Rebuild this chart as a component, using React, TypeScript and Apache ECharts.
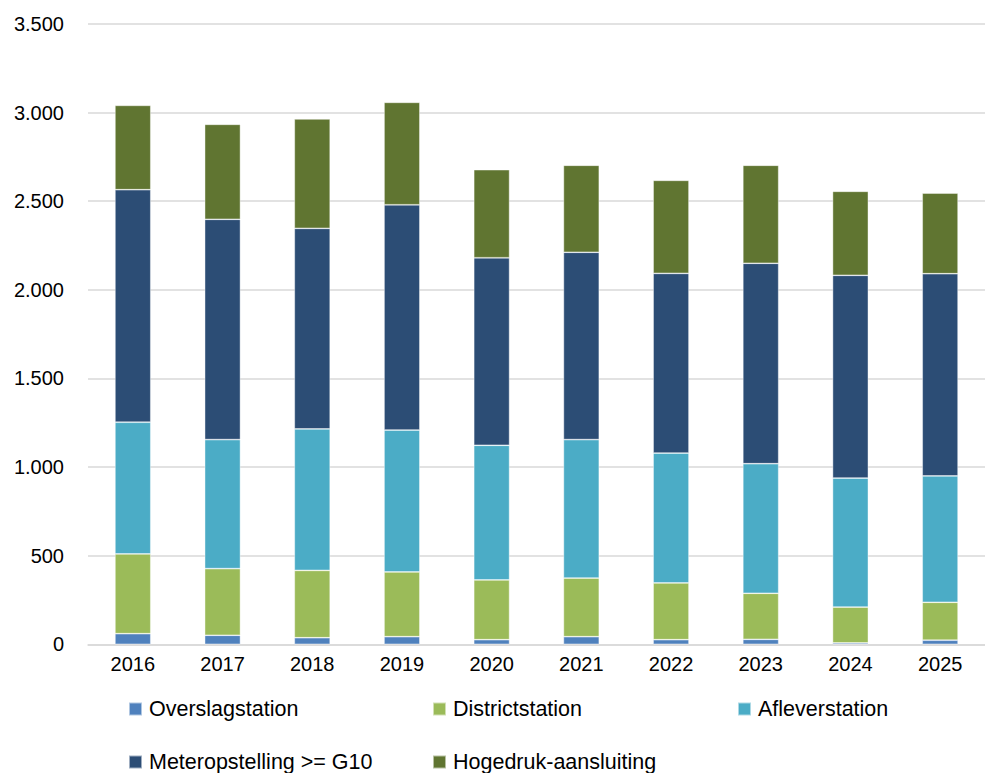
import React, { useEffect, useRef } from "react";
import * as echarts from "echarts";

const years = ["2016", "2017", "2018", "2019", "2020", "2021", "2022", "2023", "2024", "2025"];
const seriesNames = [
  "Overslagstation",
  "Districtstation",
  "Afleverstation",
  "Meteropstelling >= G10",
  "Hogedruk-aansluiting",
];
const overslag = [60, 51, 37, 43, 26, 43, 26, 28, 8, 23];
const district = [450, 376, 380, 365, 337, 331, 320, 260, 202, 214];
const aflever = [743, 728, 798, 801, 760, 781, 733, 731, 728, 713];
const meter = [1312, 1243, 1132, 1271, 1058, 1057, 1014, 1131, 1144, 1141];
const hogedruk = [476, 536, 617, 578, 497, 491, 525, 553, 474, 455];
const colors = ["#4F81BD", "#9BBB59", "#4BACC6", "#2C4D75", "#607531"];

const FONT = "Liberation Sans";

function fmt(v: number): string {
  return String(v).replace(/\B(?=(\d{3})+(?!\d))/g, ".");
}

export default function App() {
  const ref = useRef<HTMLDivElement>(null);
  useEffect(() => {
    if (!ref.current) return;
    const chart = echarts.init(ref.current, null, { renderer: "svg" });
    const values = [overslag, district, aflever, meter, hogedruk];
    const legendPos = [
      { left: 128, top: 698 },
      { left: 432, top: 698 },
      { left: 737, top: 698 },
      { left: 128, top: 751 },
      { left: 432, top: 751 },
    ];
    chart.setOption({
      animation: false,
      textStyle: { fontFamily: FONT },
      grid: { left: 88, top: 24, width: 912.5, height: 620.3, containLabel: false },
      xAxis: {
        type: "category",
        data: years,
        axisTick: { show: false },
        axisLine: { lineStyle: { color: "#d9d9d9", width: 1.5 } },
        axisLabel: { color: "#000", fontSize: 20, fontFamily: FONT, margin: 10 },
      },
      yAxis: {
        type: "value",
        min: 0,
        max: 3500,
        interval: 500,
        axisLine: { show: false },
        axisTick: { show: false },
        splitLine: { lineStyle: { color: "#d9d9d9", width: 1.5 } },
        axisLabel: {
          color: "#000",
          fontSize: 20,
          fontFamily: FONT,
          margin: 24,
          formatter: (v: number) => fmt(v),
        },
      },
      legend: seriesNames.map((n, i) => ({
        data: [n],
        left: legendPos[i].left,
        top: legendPos[i].top,
        padding: 0,
        itemWidth: 13,
        itemHeight: 13,
        itemGap: 0,
        icon: "rect",
        selectedMode: false,
        textStyle: { color: "#000", fontSize: 21.5, fontFamily: FONT, padding: [0, 0, 0, 2] },
      })),
      series: seriesNames.map((n, i) => ({
        name: n,
        type: "bar",
        stack: "total",
        barWidth: "40%",
        data: values[i],
        itemStyle: {
          color: colors[i],
          borderColor: "rgba(255,255,255,0.55)",
          borderWidth: 0.75,
        },
      })),
    });
    return () => chart.dispose();
  }, []);
  return (
    <div
      ref={ref}
      style={{ position: "absolute", left: 0, top: 0, width: 985, height: 773, background: "#fff" }}
    />
  );
}
